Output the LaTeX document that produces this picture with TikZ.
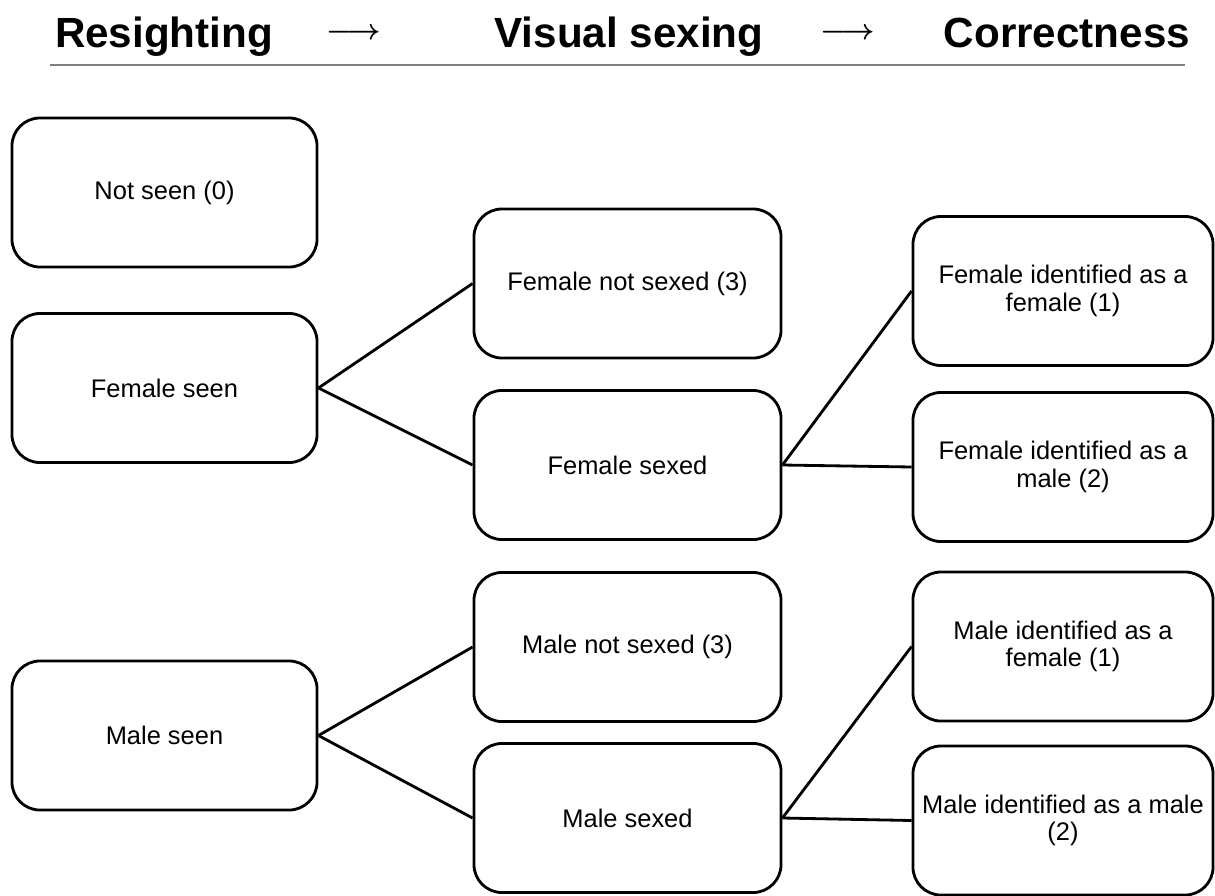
\documentclass[tikz,border=0pt]{standalone}
\usepackage{fontspec}
\setmainfont{Liberation Sans}
\usepackage{tikz}
\usetikzlibrary{calc}
\usetikzlibrary{positioning}

\begin{document}
\begin{tikzpicture}[x=0.025cm,y=-0.025cm]
    \tikzstyle{every node}=[font=\fontsize{18.1}{19.5}\selectfont,align=center]
    \tikzstyle{every path}=[line width=2pt]
    \tikzstyle{sbox}=[draw=black,line width=2pt,rounded corners=0.7cm,minimum height=3.725cm,inner sep=0pt]
    \tikzstyle{lcol}=[sbox,minimum width=7.625cm]
    \tikzstyle{mcol}=[sbox,minimum width=7.675cm]
    \tikzstyle{rcol}=[sbox,minimum width=7.5cm]
    \tikzstyle{head}=[font=\fontsize{30}{36}\selectfont\bfseries,anchor=base]
    \tikzstyle{harrow}=[font=\fontsize{21}{24}\selectfont\boldmath]

    \useasboundingbox (0,0) rectangle (1215,895);

    \node[head] (hres) at (164,47) {Resighting};
    \node[harrow] (harr1) at (354,34) {$\longrightarrow$};
    \node[head] (hvis) at (629,47) {Visual sexing};
    \node[harrow] (harr2) at (848,34) {$\longrightarrow$};
    \node[head] (hcor) at (1067,47) {Correctness};
    \coordinate (rulel) at (50,65);
    \coordinate (ruler) at (1185,65);
    \draw[gray,line width=1.5pt] (rulel) -- (ruler);

    \node[lcol] (notseen)  at (164.5,192.5) {Not seen (0)};
    \node[lcol] (femseen)  at (164.5,388)   {Female seen};
    \node[lcol] (maleseen) at (164.5,735.5) {Male seen};

    \node[mcol] (femnot)    at (627.5,283.5) {Female not sexed (3)};
    \node[mcol] (femsexed)  at (627.5,465)   {Female sexed};
    \node[mcol] (malenot)   at (627.5,647)   {Male not sexed (3)};
    \node[mcol] (malesexed) at (627.5,818)   {Male sexed};

    \node[rcol] (femfem)   at (1063,291)   {Female identified as a\\female (1)};
    \node[rcol] (femmale)  at (1063,467)   {Female identified as a\\male (2)};
    \node[rcol] (malefem)  at (1063,646.5) {Male identified as a\\female (1)};
    \node[rcol] (malemale) at (1063,820.5) {Male identified as a male\\(2)};

    \foreach \a/\b in {femseen/femnot,femseen/femsexed,femsexed/femfem,femsexed/femmale,
                       maleseen/malenot,maleseen/malesexed,malesexed/malefem,malesexed/malemale}
      \draw (\a.east) -- (\b.west) ;

\end{tikzpicture}
\end{document}
